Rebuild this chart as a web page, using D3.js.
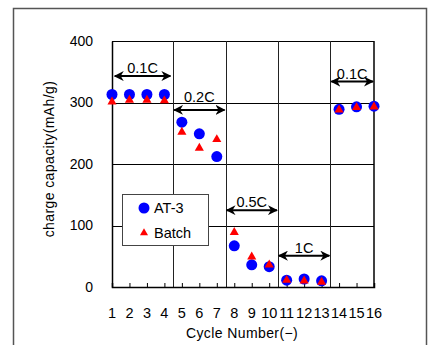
<!DOCTYPE html>
<html>
<head>
<meta charset="utf-8">
<script src="https://cdn.jsdelivr.net/npm/d3@7"></script>
<style>
  body { margin: 0; background: #fff; }
  svg { display: block; font-family: "Liberation Sans", Arial, sans-serif; }
</style>
</head>
<body>
<div id="chart"></div>
<script>
var width = 430,
    height = 345;

// data
var cycles = [1, 2, 3, 4, 5, 6, 7, 8, 9, 10, 11, 12, 13, 14, 15, 16];
var at3 = [313, 313, 313, 313, 268, 249, 212, 67, 36, 33, 11, 13, 10, 289, 293, 294];
var batch = [301, 304, 304, 303, 252, 226, 240, 89, 49, 36, 11, 10, 8, 288, 292, 293];
var yTicks = [0, 100, 200, 300, 400];
var gridX = [4.5, 7.5, 10.5, 13.5];

var rateLabels = ['0.1C', '0.2C', '0.5C', '1C', '0.1C'];
var rateStart = [1.1, 4.5, 7.5, 10.5, 13.5];
var rateEnd = [4.4, 7.5, 10.5, 13.5, 16];
var rateLevel = [343, 288, 125, 51, 334];

var svg = d3.select('#chart').append('svg')
    .attr('width', width)
    .attr('height', height);

var defs = svg.append('defs');
['end', 'start'].forEach(function(k) {
    defs.append('marker')
        .attr('id', 'arr-' + k)
        .attr('viewBox', '0 0 10 10')
        .attr('refX', 9).attr('refY', 5)
        .attr('markerWidth', 5).attr('markerHeight', 5)
        .attr('orient', k == 'end' ? 'auto' : 'auto-start-reverse')
        .append('path')
        .attr('d', 'M0,0 L10,5 L0,10 L3,5 Z')
        .attr('fill', '#000');
});

// outer frame
svg.append('rect')
    .attr('x', 13.5).attr('y', 8.5)
    .attr('width', 413).attr('height', 345)
    .attr('fill', 'none')
    .attr('stroke', '#555')
    .attr('stroke-width', 1.5);

var x = d3.scaleLinear().domain([1, 16]).range([112, 374]);
var y = d3.scaleLinear().domain([0, 400]).range([287, 41]);

var plot = svg.append('g');

// grid
plot.selectAll('.hgrid')
    .data(yTicks.slice(1))
    .enter().append('line')
    .attr('x1', x(1)).attr('x2', x(16))
    .attr('y1', function(d) { return Math.round(y(d)) + 0.5; })
    .attr('y2', function(d) { return Math.round(y(d)) + 0.5; })
    .attr('stroke', '#000').attr('stroke-width', 1);

plot.selectAll('.vgrid')
    .data(gridX)
    .enter().append('line')
    .attr('x1', function(d) { return Math.round(x(d)) + 0.5; })
    .attr('x2', function(d) { return Math.round(x(d)) + 0.5; })
    .attr('y1', y(0)).attr('y2', y(400))
    .attr('stroke', '#222').attr('stroke-width', 1);

// axes
var yAxis = d3.axisLeft(y).tickValues(yTicks).tickSize(0).tickPadding(19);
var gy = plot.append('g')
    .attr('transform', 'translate(' + x(1) + ',0)')
    .call(yAxis);
gy.select('.domain').attr('stroke', '#000').attr('stroke-width', 1.5);
gy.selectAll('text').attr('font-size', 14).attr('fill', '#000');

var xAxis = d3.axisTop(x).tickValues(cycles).tickSize(4).tickFormat('');
var gx = plot.append('g')
    .attr('transform', 'translate(0,' + y(0) + ')')
    .call(xAxis);
gx.select('.domain').attr('stroke', '#000').attr('stroke-width', 1.5);
gx.selectAll('.tick line').attr('stroke', '#000');

plot.selectAll('.xlab')
    .data(cycles)
    .enter().append('text')
    .attr('x', function(d) { return x(d); })
    .attr('y', 318)
    .attr('text-anchor', 'middle')
    .attr('font-size', 14.5)
    .text(function(d) { return d; });

// right border of the plot
plot.append('line')
    .attr('x1', x(16)).attr('x2', x(16))
    .attr('y1', y(0)).attr('y2', y(400))
    .attr('stroke', '#000').attr('stroke-width', 1.5);

// axis titles
svg.append('text')
    .attr('transform', 'translate(54,' + 159 + ') rotate(-90)')
    .attr('text-anchor', 'middle')
    .attr('font-size', 14)
    .attr('letter-spacing', 0.4)
    .text('charge capacity(mAh/g)');

svg.append('text')
    .attr('x', 242).attr('y', 338)
    .attr('text-anchor', 'middle')
    .attr('font-size', 14)
    .attr('letter-spacing', 0.4)
    .text('Cycle Number(\u2212)');

// rate annotations
var rates = rateLabels.map(function(d, i) {
    return { label: d, a: rateStart[i], b: rateEnd[i], v: rateLevel[i] };
});

var rg = plot.selectAll('.rate')
    .data(rates)
    .enter().append('g');

rg.append('line')
    .attr('x1', function(d) { return x(d.a) + 1; })
    .attr('x2', function(d) { return x(d.b) - 1; })
    .attr('y1', function(d) { return y(d.v); })
    .attr('y2', function(d) { return y(d.v); })
    .attr('stroke', '#000').attr('stroke-width', 2)
    .attr('marker-start', 'url(#arr-start)')
    .attr('marker-end', 'url(#arr-end)');

rg.append('text')
    .attr('x', function(d) { return (x(d.a) + x(d.b)) / 2; })
    .attr('y', function(d) { return y(d.v) - (d.label == '0.2C' ? 8 : 3); })
    .attr('text-anchor', 'middle')
    .attr('font-size', 14.5)
    .text(function(d) { return d.label; });

// series
var tri = d3.symbol().type(d3.symbolTriangle).size(36);

plot.selectAll('.at3')
    .data(cycles)
    .enter().append('circle')
    .attr('cx', function(d) { return x(d); })
    .attr('cy', function(d, i) { return y(at3[i]); })
    .attr('r', 5.5)
    .attr('fill', '#0000ff');

plot.selectAll('.batch')
    .data(cycles)
    .enter().append('path')
    .attr('d', tri)
    .attr('transform', function(d, i) { return 'translate(' + x(d) + ',' + y(batch[i]) + ')'; })
    .attr('fill', '#ff0000');

// legend
var lg = svg.append('g').attr('transform', 'translate(122,194)');
lg.append('rect')
    .attr('x', 0.5).attr('y', 0.5)
    .attr('width', 86).attr('height', 51)
    .attr('fill', '#fff')
    .attr('stroke', '#444');
lg.append('circle').attr('cx', 22).attr('cy', 14).attr('r', 5.5).attr('fill', '#0000ff');
lg.append('text').attr('x', 32).attr('y', 19).attr('font-size', 14.5).text('AT-3');
lg.append('path').attr('d', d3.symbol().type(d3.symbolTriangle).size(28)).attr('transform', 'translate(22,39)').attr('fill', '#ff0000');
lg.append('text').attr('x', 32).attr('y', 44).attr('font-size', 14.5).text('Batch');
</script>
</body>
</html>
